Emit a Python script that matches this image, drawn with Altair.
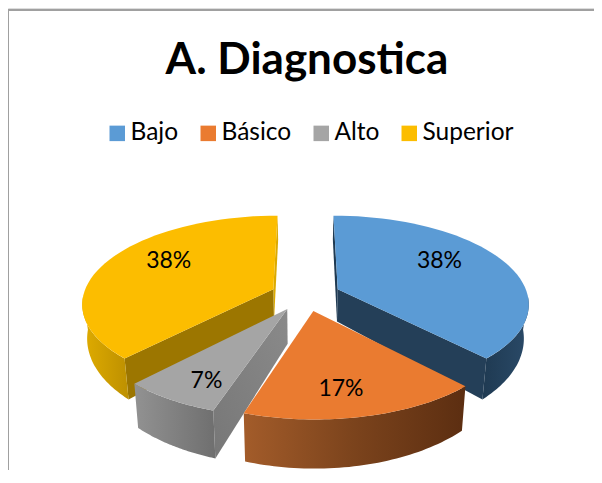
import math
import altair as alt

# --- data ---
categories = ["Bajo", "Básico", "Alto", "Superior"]
shares = [38, 17, 7, 38]
labels = ["38%", "17%", "7%", "38%"]
top_colors = ["#5b9bd5", "#ea7b30", "#a5a5a5", "#fcbd00"]

# --- look of the 3D pie ---
CX, CY = 305.5 - 8, 295 - 8
R, F, P = 190, 0.455, 0.153
EXPLODE, DEPTH, SHRINK = 35, 33, 0.978
LABEL_POS = [(59, 0.675), (171, 0.765), (207, 0.79), (300.5, 0.69)]


def proj(X, Y, bottom=False):
    s = 1 / (1 - P * Y / R)
    x = X * s
    y = Y * F * s
    if bottom:
        return [CX + x * SHRINK, CY + y + DEPTH * s * s]
    return [CX + x, CY + y]


def world(theta, r, ox, oy):
    t = math.radians(theta)
    return ox + r * math.sin(t), oy - r * math.cos(t)


def feature(cat, pts):
    return {"type": "Feature", "properties": {"cat": cat},
            "geometry": {"type": "Polygon", "coordinates": [pts + [pts[0]]]}}


geo = alt.Projection(type="identity", scale=1, translate=[0, 0])
spans, start = [], 0.0
for v in shares:
    spans.append((start, start + 3.6 * v))
    start += 3.6 * v


def layer(values, **kw):
    return alt.Chart(alt.Data(values=values)).mark_geoshape(strokeOpacity=0, **kw).project(**geo.to_dict())


def steps(a, b, n=48):
    return [a + (b - a) * i / n for i in range(n + 1)]


offsets, rim_parts, cut_a, cut_b, tops = [], [], [], [], []
for (c, (a, b)) in zip(categories, spans):
    mid = math.radians((a + b) / 2)
    ox, oy = EXPLODE * math.sin(mid), -EXPLODE * math.cos(mid)
    offsets.append((ox, oy))
    arc = steps(a, b)
    top = [proj(*world(t, R, ox, oy)) for t in arc]
    tops.append(feature(c, [proj(ox, oy)] + top))
    lo, hi = max(a, 95), min(b, 265)
    vis = steps(lo, hi)
    rim_parts.append(feature(c, [proj(*world(t, R, ox, oy)) for t in vis] +
                             [proj(*world(t, R, ox, oy), bottom=True) for t in reversed(vis)]))
    for store, th in ((cut_a, a), (cut_b, b)):
        rp = world(th, R, ox, oy)
        store.append(feature(c, [proj(ox, oy), proj(*rp), proj(*rp, bottom=True), proj(ox, oy, bottom=True)]))


def hgrad(c1, c2):
    return alt.Gradient(gradient="linear", x1=0, x2=1, y1=0, y2=0,
                        stops=[alt.GradientStop(color=c1, offset=0), alt.GradientStop(color=c2, offset=1)])


layers = []
# back slices first (blue, yellow), then grey and orange in front
# blue
layers += [layer([cut_a[0]], fill="#1f3a52"),
           layer([cut_b[0]], fill="#243f58"),
           layer([rim_parts[0]], fill=hgrad("#1f3a52", "#2a4a68"))]
# yellow
layers += [layer([cut_b[3]], fill="#dcaa00"),
           layer([cut_a[3]], fill="#9c7600"),
           layer([rim_parts[3]], fill=hgrad("#e0ac00", "#bd9000"))]
# grey
layers += [layer([cut_a[2]], fill=alt.Gradient(gradient="linear", x1=1, x2=0, y1=0, y2=1,
                                               stops=[alt.GradientStop(color="#8a8a8a", offset=0),
                                                      alt.GradientStop(color="#777777", offset=1)])),
           layer([rim_parts[2]], fill=hgrad("#929292", "#6f6f6f"))]
# orange
layers += [layer([rim_parts[1]], fill=alt.Gradient(gradient="linear", x1=0, x2=1, y1=0, y2=0,
                                                   stops=[alt.GradientStop(color="#a35c2a", offset=0),
                                                          alt.GradientStop(color="#7b431c", offset=0.5),
                                                          alt.GradientStop(color="#5c2e11", offset=1)]))]

# top faces carry the colour scale and legend
tops_layer = alt.Chart(alt.Data(values=tops)).mark_geoshape(strokeOpacity=0).encode(
    fill=alt.Fill("properties.cat:N",
                  scale=alt.Scale(domain=categories, range=top_colors),
                  legend=alt.Legend(orient="none", legendX=97, legendY=113, direction="horizontal",
                                    columns=4, title=None, symbolType="square", symbolSize=240,
                                    symbolStrokeWidth=0, labelFont="Lato", labelFontSize=24.5,
                                    labelColor="#000000", labelOffset=1, columnPadding=17,
                                    gridAlign="each", symbolOpacity=1))
).project(**geo.to_dict())
layers.append(tops_layer.transform_filter(alt.FieldOneOfPredicate(field="properties.cat", oneOf=["Bajo", "Superior"])))
layers.append(tops_layer.transform_filter(alt.FieldOneOfPredicate(field="properties.cat", oneOf=["Alto", "Básico"])))

# percentages
rows = []
for lab, (th, fr), (ox, oy) in zip(labels, LABEL_POS, offsets):
    lx, ly = proj(*world(th, R * fr, ox, oy))
    rows.append({"label": lab, "lon": lx, "lat": ly})
text = alt.Chart(alt.Data(values=rows)).mark_text(font="Lato", fontSize=23, color="#000000").encode(
    longitude="lon:Q", latitude="lat:Q", text="label:N").project(**geo.to_dict())
layers.append(text)

# frame of the chart area (open at right and bottom)
frame_top = alt.Chart(alt.Data(values=[{"a": 0}])).mark_rule(color="#a0a0a0", strokeWidth=2).encode(
    x=alt.value(0), x2=alt.value(586), y=alt.value(2))
frame_left = alt.Chart(alt.Data(values=[{"a": 0}])).mark_rule(color="#a0a0a0", strokeWidth=2).encode(
    x=alt.value(0), y=alt.value(2), y2=alt.value(462))
layers += [frame_top, frame_left]

chart = alt.layer(*layers).properties(
    width=586, height=462, padding=0, autosize=alt.AutoSizeParams(type="none"),
    title=alt.TitleParams("A. Diagnostica", font="Lato", fontSize=44, fontWeight="bold", color="#000000",
                          anchor="middle", dx=6, dy=110, offset=0, baseline="alphabetic")
).configure_view(stroke=None).configure(background="#ffffff")

chart.save("out.html", embed_options={"renderer": "svg", "actions": False})
